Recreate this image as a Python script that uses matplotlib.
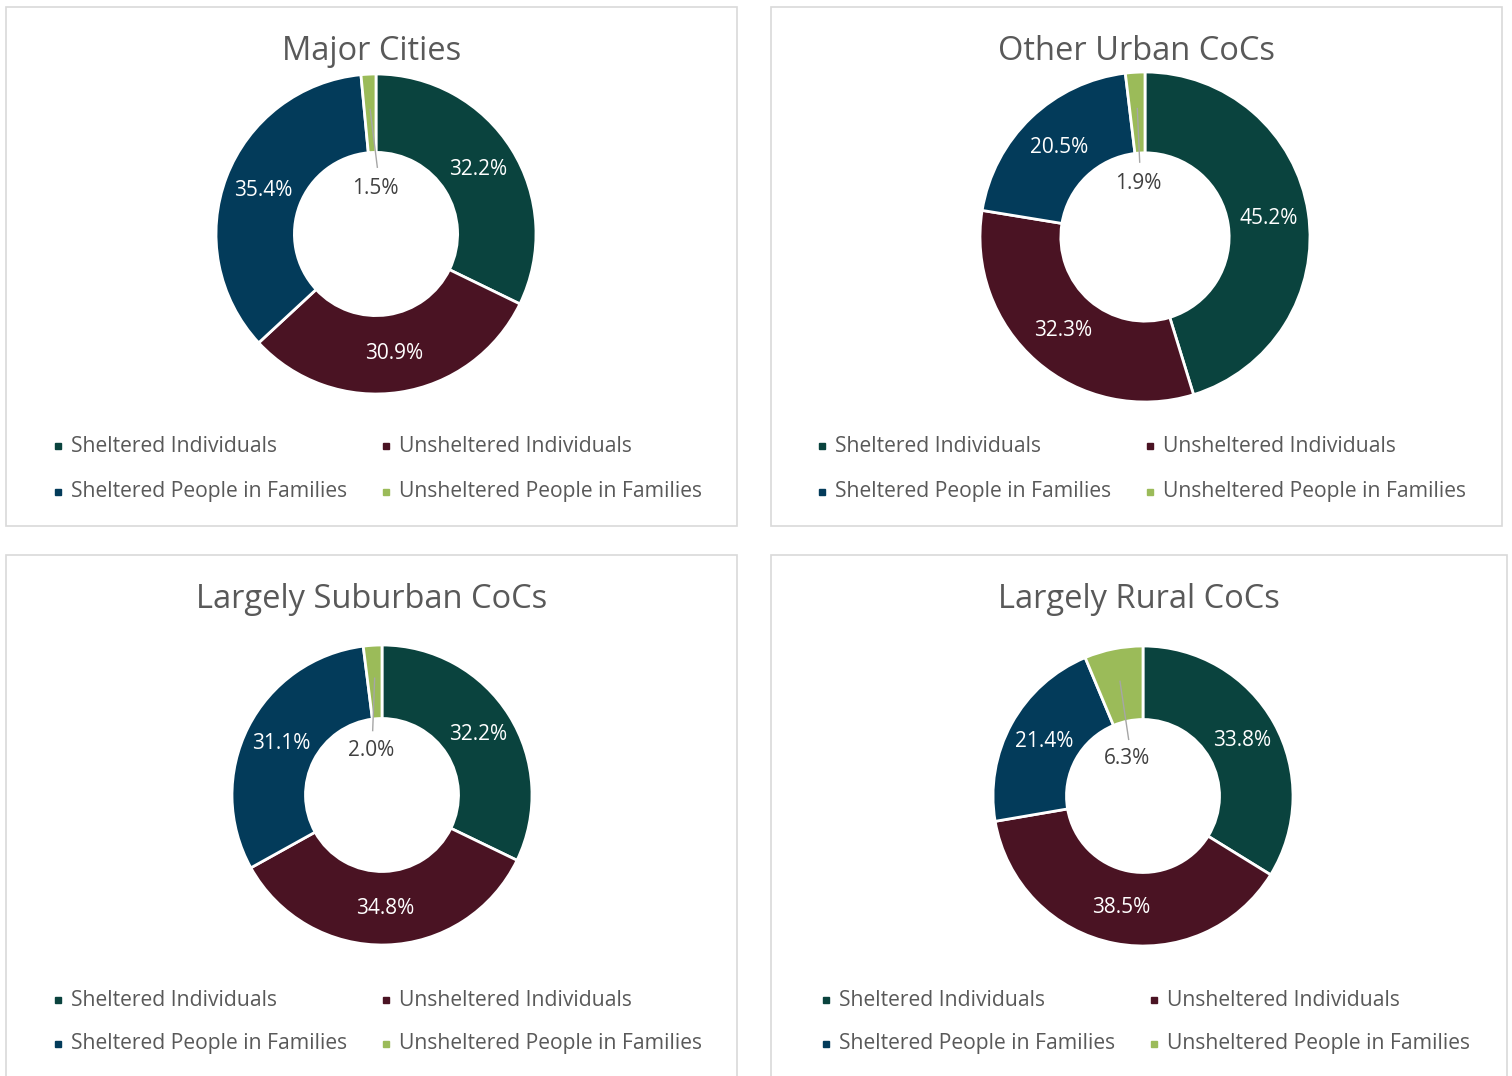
import matplotlib
matplotlib.use("Agg")
import matplotlib.pyplot as plt
from matplotlib.patches import Rectangle
from matplotlib.lines import Line2D
import numpy as np

# ---------------- data ----------------
categories = ["Sheltered Individuals", "Unsheltered Individuals",
              "Sheltered People in Families", "Unsheltered People in Families"]
titles = ["Major Cities", "Other Urban CoCs", "Largely Suburban CoCs", "Largely Rural CoCs"]
major_cities = [32.2, 30.9, 35.4, 1.5]
other_urban = [45.2, 32.3, 20.5, 1.9]
largely_suburban = [32.2, 34.8, 31.1, 2.0]
largely_rural = [33.8, 38.5, 21.4, 6.3]
series = [major_cities, other_urban, largely_suburban, largely_rural]

colors = ["#0A433E", "#4A1323", "#033B5A", "#9BBB59"]

# ---------------- layout ----------------
plt.rcParams['font.family'] = ['Open Sans', 'DejaVu Sans']
W, H = 1512, 1076
fig = plt.figure(figsize=(W / 100, H / 100), dpi=100)
fig.patch.set_facecolor("white")


def fx(x):
    return x / W


def fy(y):
    return 1 - y / H


panels = [
    dict(box=(6, 7, 737, 526), center=(376, 234), r=160, title_y=52, leg=(58, 446, 46),
         shift=(2, 2)),
    dict(box=(771, 7, 1502, 526), center=(1145, 237), r=165, title_y=52, leg=(822, 446, 46),
         shift=(-4, -4)),
    dict(box=(6, 555, 737, 1090), center=(382, 795), r=150, title_y=600, leg=(58, 1000, 44),
         shift=(-8, 0)),
    dict(box=(771, 555, 1507, 1090), center=(1143, 796), r=150, title_y=600, leg=(826, 1000, 44),
         shift=(-7, 7)),
]

text_gray = "#595959"
M = 1.05

for p, title, vals in zip(panels, titles, series):
    x0, y0, x1, y1 = p["box"]
    fig.patches.append(Rectangle((fx(x0), fy(y1)), (x1 - x0) / W, (y1 - y0) / H,
                                 transform=fig.transFigure, facecolor="white",
                                 edgecolor="#D9D9D9", linewidth=1.2, zorder=-5))
    fig.text(fx((x0 + x1) / 2), fy(p["title_y"]), title, ha="center", va="center",
             fontsize=23.5, color=text_gray)

    cx, cy = p["center"]
    r = p["r"]
    ax = fig.add_axes([fx(cx - r * M), fy(cy + r * M), 2 * r * M / W, 2 * r * M / H])
    ax.patch.set_visible(False)
    wedges, _ = ax.pie(vals, colors=colors, startangle=90, counterclock=False,
                       wedgeprops=dict(width=0.49, edgecolor="white", linewidth=2))
    ax.set_xlim(-M, M)
    ax.set_ylim(-M, M)
    ax.set_aspect("equal")
    ax.axis("off")

    for i, (w, v) in enumerate(zip(wedges, vals)):
        ang = np.deg2rad((w.theta1 + w.theta2) / 2)
        lbl = f"{v:.1f}%"
        if i == len(vals) - 1:
            dxs, dys = p["shift"]
            lx = 0.3 * np.cos(ang) + dxs / r
            ly = 0.3 * np.sin(ang) - dys / r
            sx, sy = 0.78 * np.cos(ang), 0.78 * np.sin(ang)
            ax.plot([sx, lx + 0.01], [sy, ly + 0.13], color="#A6A6A6", lw=1)
            ax.text(lx, ly, lbl, ha="center", va="center", fontsize=15, color="#404040")
        else:
            rr = 0.755
            ax.text(rr * np.cos(ang), rr * np.sin(ang), lbl, ha="center", va="center",
                    fontsize=15, color="white")

    # legend
    lx0, ly0, dy = p["leg"]
    positions = [(0, 0), (1, 0), (0, 1), (1, 1)]
    for (col, row), cat, c in zip(positions, categories, colors):
        mx = lx0 + col * 328
        my = ly0 + row * dy
        fig.add_artist(Line2D([fx(mx)], [fy(my)], marker="s", markersize=5, color=c,
                              linestyle="none", transform=fig.transFigure))
        fig.text(fx(mx + 13), fy(my), cat, ha="left", va="center", fontsize=15.2,
                 color=text_gray)

fig.savefig("out.png", dpi=100, facecolor="white")
